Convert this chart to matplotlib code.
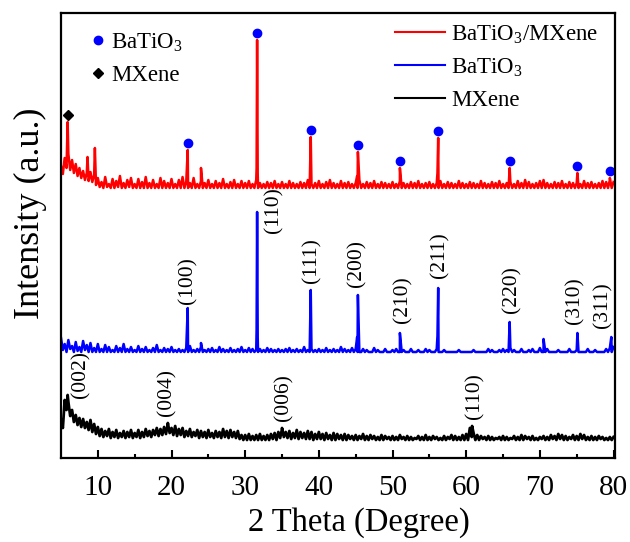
import numpy as np
import matplotlib
matplotlib.use("Agg")
import matplotlib.pyplot as plt
from matplotlib.lines import Line2D

plt.rcParams['font.family'] = ['Liberation Serif', 'DejaVu Serif']
plt.rcParams['mathtext.fontset'] = 'custom'
plt.rcParams['mathtext.rm'] = 'Liberation Serif'

# 2-theta sample grid (degrees): noise tops on the grid, noise bottoms half-way between
two_theta = np.arange(5.0, 80.01, 0.5)
two_theta_mid = two_theta[:-1] + 0.25

# noise tops (a.u., above each pattern's own baseline), 5.0 ... 80.0
red_top = [22, 30, 34, 28, 24, 20, 17, 15, 16, 13,
           10, 6, 11, 4, 9, 7, 12, 5, 8, 10,
           4, 9, 6, 11, 5, 8, 4, 10, 7, 5,
           9, 4, 8, 11, 6, 5, 10, 4, 7, 5,
           8, 4, 7, 5, 9, 4, 6, 8, 4, 7,
           5, 7, 4, 8, 5, 4, 6, 5, 7, 4,
           6, 4, 7, 5, 4, 6, 5, 8, 4, 5,
           7, 4, 6, 8, 5, 4, 7, 5, 6, 4,
           5, 8, 4, 6, 5, 7, 4, 6, 5, 4,
           6, 4, 7, 5, 4, 6, 5, 7, 4, 5,
           6, 4, 5, 7, 4, 6, 5, 4, 7, 5,
           4, 6, 5, 4, 7, 5, 4, 6, 5, 7,
           4, 5, 6, 4, 7, 5, 8, 6, 4, 5,
           7, 8, 5, 4, 6, 5, 7, 4, 6, 5,
           5, 4, 7, 5, 6, 4, 5, 7, 6, 8,
           6]
blue_top = [14, 8, 12, 6, 10, 5, 11, 7, 9, 4,
            8, 3, 7, 5, 2, 6, 4, 8, 3, 5,
            2, 6, 3, 5, 2, 4, 7, 2, 4, 3,
            5, 2, 3, 2, 4, 6, 2, 3, 5, 2,
            3, 4, 2, 5, 3, 2, 4, 2, 3, 5,
            2, 4, 3, 2, 3, 2, 4, 3, 2, 3,
            2, 3, 4, 2, 3, 2, 5, 2, 3, 2,
            3, 2, 4, 2, 3, 2, 5, 3, 2, 4,
            3, 0, 3, 2, 0, 4, 2, 0, 3, 0,
            2, 3, 0, 2, 0, 3, 0, 2, 0, 3,
            2, 0, 3, 0, 2, 0, 0, 0, 2, 0,
            0, 0, 2, 0, 0, 0, 3, 2, 0, 2,
            3, 2, 4, 2, 0, 3, 0, 2, 3, 0,
            4, 0, 3, 0, 0, 2, 0, 0, 3, 0,
            2, 0, 0, 3, 0, 2, 0, 0, 3, 4,
            5]
black_top = [20, 40, 38, 30, 25, 22, 21, 18, 20, 16,
             13, 11, 9, 11, 8, 10, 7, 9, 8, 10,
             7, 10, 8, 11, 9, 10, 12, 11, 13, 16,
             12, 14, 11, 12, 9, 11, 8, 10, 9, 8,
             10, 7, 9, 8, 11, 9, 10, 8, 9, 5,
             5, 6, 4, 5, 6, 4, 5, 6, 7, 8,
             11, 8, 9, 7, 10, 8, 7, 9, 8, 6,
             8, 6, 7, 5, 7, 6, 5, 6, 5, 4,
             5, 4, 6, 4, 5, 4, 3, 5, 4, 3,
             4, 3, 5, 3, 4, 3, 2, 4, 3, 5,
             3, 4, 3, 2, 4, 3, 5, 4, 3, 5,
             6, 12, 7, 5, 4, 3, 4, 3, 2, 3,
             4, 3, 2, 4, 3, 5, 4, 3, 4, 2,
             3, 4, 3, 5, 4, 6, 5, 4, 3, 5,
             4, 6, 5, 3, 4, 3, 4, 3, 2, 3,
             3]

# noise bottoms, 5.25 ... 79.75
red_low = ([14, 20, 18, 15, 12, 10, 8, 7, 6, 3,
            1, 0, 1, 0, 0, 1, 0, 0, 1, 0]
           + [0] * 130)
blue_low = [2, 0, 3, 0, 1, 0, 2, 0, 0, 0] + [0] * 140
black_low = ([12, 30, 24, 18, 15, 13, 12, 10, 8, 6,
              4, 3, 4, 2, 3, 2, 3, 2, 3, 2,
              3, 2, 3, 4, 3, 5, 4, 5, 6, 7,
              5, 4, 5, 3, 4, 3, 4, 2, 3, 2,
              3, 2, 3, 2, 3, 2, 3, 2, 1, 0,
              0, 0, 0, 0, 0, 0, 0, 1, 0, 2,
              3, 2, 1, 2, 1, 2, 1, 1, 0, 1,
              1, 0, 1, 0, 0, 1, 0, 0, 1, 0,
              0, 1, 0, 0, 1, 0, 0, 0, 1, 0,
              0, 0, 1, 0, 0, 0, 1, 0, 0, 0,
              0, 1, 0, 0, 0, 1, 0, 0, 0, 0,
              0, 3, 0, 0, 1, 0, 0, 0, 1, 0,
              0, 0, 1, 0, 0, 0, 1, 0, 0, 0,
              1, 0, 0, 1, 0, 1, 0, 0, 1, 0,
              0, 1, 0, 0, 0, 0, 1, 0, 0, 0])

# diffraction peaks (2theta, intensity)
red_peaks = [(5.9, 66), (8.6, 31), (9.6, 40), (22.2, 38), (24.0, 20),
             (31.55, 20), (31.62, 148), (31.7, 15), (38.9, 51),
             (45.2, 12), (45.3, 36), (51.0, 20), (56.1, 15), (56.2, 50),
             (65.9, 20), (75.1, 15), (79.5, 10)]
blue_peaks = [(22.2, 44), (24.0, 9), (31.55, 22), (31.62, 140), (31.7, 15),
              (38.9, 62), (45.2, 15), (45.3, 57), (51.0, 19), (56.1, 16),
              (56.2, 64), (65.9, 30), (70.5, 13), (75.1, 19), (79.7, 15)]
black_peaks = [(5.9, 45), (19.5, 17), (35.0, 12), (60.8, 14)]

# phase markers on the composite pattern
batio3_marks = [22.2, 31.62, 38.9, 45.3, 51.0, 56.2, 65.9, 75.1, 79.5]
mxene_marks = [5.9]

# Miller index labels
blue_hkl = [(22.2, '(100)'), (33.9, '(110)'), (39.0, '(111)'), (45.1, '(200)'),
            (51.4, '(210)'), (56.4, '(211)'), (66.2, '(220)'), (74.8, '(310)'),
            (78.6, '(311)')]
blue_hkl_y = [44, 115, 65, 61, 25, 70, 35, 24, 20]
black_hkl = [(7.7, '(002)'), (19.4, '(004)'), (35.2, '(006)'), (61.2, '(110)')]
black_hkl_y = [38, 20, 15, 17]

OFF_RED, OFF_BLUE, OFF_BLACK = 270, 106, 18


def merge(top, low, peaks):
    xs = np.concatenate([two_theta, two_theta_mid, [p[0] for p in peaks]])
    ys = np.concatenate([top, low, [p[1] for p in peaks]])
    idx = np.argsort(xs, kind='stable')
    return xs[idx], ys[idx]


fig = plt.figure(figsize=(6.3, 5.42), dpi=100)
ax = fig.add_axes([61 / 630, 84 / 542, 554 / 630, 445 / 542])

xr, yr = merge(red_top, red_low, red_peaks)
xb, yb = merge(blue_top, blue_low, blue_peaks)
xk, yk = merge(black_top, black_low, black_peaks)
l1, = ax.plot(xr, yr + OFF_RED, color='#ff0000', lw=1.8, label='BaTiO$_3$/MXene')
l2, = ax.plot(xb, yb + OFF_BLUE, color='#0000ff', lw=1.8, label='BaTiO$_3$')
l3, = ax.plot(xk, yk + OFF_BLACK, color='black', lw=2.0, label='MXene')

peak_r = dict(red_peaks)
for p in batio3_marks:
    ax.plot(p, OFF_RED + peak_r[p] + 7, 'o', color='#0000ff', ms=6)
for p in mxene_marks:
    ax.plot(p, OFF_RED + peak_r[p] + 7, 'D', color='black', ms=5)

for (x, t), h in zip(blue_hkl, blue_hkl_y):
    ax.text(x, OFF_BLUE + h + 4, t, rotation=90, ha='center', va='bottom', fontsize=15.5)
for (x, t), h in zip(black_hkl, black_hkl_y):
    ax.text(x, OFF_BLACK + h + 4, t, rotation=90, ha='center', va='bottom', fontsize=15.5)

leg_lines = [Line2D([], [], color=l.get_color(), lw=1.5, label=l.get_label())
             for l in (l1, l2, l3)]
leg1 = ax.legend(handles=leg_lines, loc='upper right', frameon=False, fontsize=16.5,
                 handlelength=2.2, handletextpad=0.25, labelspacing=0.45,
                 bbox_to_anchor=(0.995, 1.008), borderaxespad=0.2)
ax.add_artist(leg1)
mk = [Line2D([], [], marker='o', ls='none', color='#0000ff', ms=6, label='BaTiO$_3$'),
      Line2D([], [], marker='D', ls='none', color='black', ms=5, label='MXene')]
ax.legend(handles=mk, loc='upper left', frameon=False, fontsize=16.5, handlelength=0.6,
          handletextpad=0.25, labelspacing=0.45, bbox_to_anchor=(0.018, 1.005))

ax.set_xlim(5, 80.2)
ax.set_ylim(0, 445)
ax.set_yticks([])
ax.set_xticks(range(10, 81, 10))
ax.set_xticks(range(15, 80, 10), minor=True)
ax.tick_params(axis='x', which='both', direction='in', labelsize=21, pad=12, width=1.5)
ax.tick_params(axis='x', which='major', length=6)
ax.tick_params(axis='x', which='minor', length=3)
for s in ax.spines.values():
    s.set_linewidth(1.6)

ax.set_xlabel('2 Theta (Degree)', fontsize=23.5)
ax.set_ylabel('Intensity (a.u.)', fontsize=26)
ax.xaxis.set_label_coords(0.538, -0.11)
ax.yaxis.set_label_coords(-0.025, 0.55)

fig.savefig('out.png', dpi=100)
